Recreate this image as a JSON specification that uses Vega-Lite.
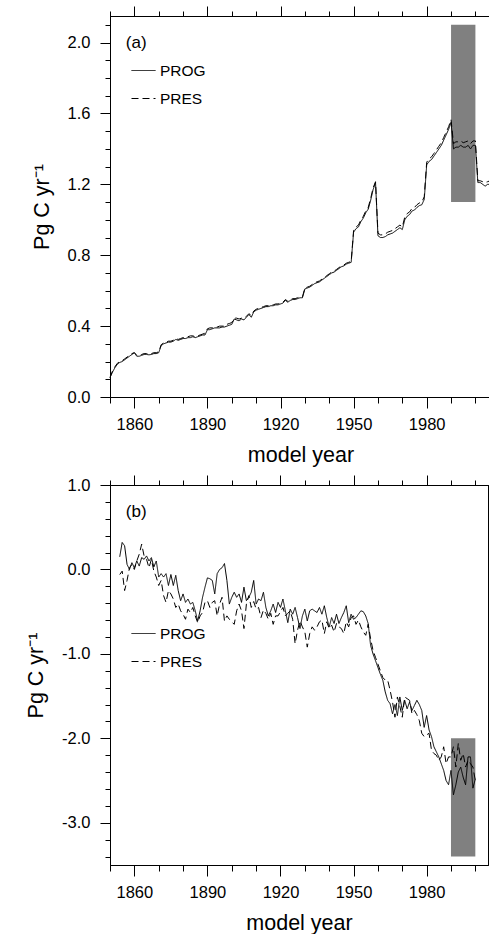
{
"$schema": "https://vega.github.io/schema/vega-lite/v6.json",
"padding": {"left": 25, "top": 5, "right": 0, "bottom": 0},
"spacing": 8,
"config": {
 "view": {"stroke": null},
 "font": "Liberation Sans",
 "axis": {"domainColor": "black", "tickColor": "black", "labelColor": "black", "titleColor": "black", "labelFont": "Liberation Sans", "titleFont": "Liberation Sans", "labelFontSize": 16.5, "titleFontSize": 21.5, "titleFontWeight": "normal", "domainWidth": 1, "tickWidth": 1, "grid": false, "labelFlush": false, "labelOverlap": false},
 "legend": {"labelFont": "Liberation Sans", "labelFontSize": 15.5, "labelColor": "black", "padding": 0}
},
"resolve": {"scale": {"strokeDash": "independent"}},
"datasets": {
 "boxA": [{"x1": 1990, "x2": 2000, "y1": 1.1, "y2": 2.1}],
 "boxB": [{"x1": 1990, "x2": 2000, "y1": -3.4, "y2": -2.0}],
 "labA": [{"label": "(a)"}],
 "labB": [{"label": "(b)"}],
 "a": [
  {"year":1850,"PROG":0.11,"PRES":0.11},{"year":1851,"PROG":0.14,"PRES":0.145},{"year":1852,"PROG":0.165,"PRES":0.17},{"year":1853,"PROG":0.185,"PRES":0.19},{"year":1854,"PROG":0.195,"PRES":0.2},{"year":1855,"PROG":0.2,"PRES":0.205},{"year":1856,"PROG":0.21,"PRES":0.215},{"year":1857,"PROG":0.22,"PRES":0.225},{"year":1858,"PROG":0.23,"PRES":0.235},{"year":1859,"PROG":0.24,"PRES":0.245},
  {"year":1860,"PROG":0.25,"PRES":0.25},{"year":1861,"PROG":0.23,"PRES":0.235},{"year":1862,"PROG":0.23,"PRES":0.235},{"year":1863,"PROG":0.235,"PRES":0.24},{"year":1864,"PROG":0.24,"PRES":0.245},{"year":1865,"PROG":0.24,"PRES":0.245},{"year":1866,"PROG":0.238,"PRES":0.24},{"year":1867,"PROG":0.24,"PRES":0.245},{"year":1868,"PROG":0.245,"PRES":0.25},{"year":1869,"PROG":0.245,"PRES":0.25},
  {"year":1870,"PROG":0.25,"PRES":0.255},{"year":1871,"PROG":0.29,"PRES":0.295},{"year":1872,"PROG":0.3,"PRES":0.305},{"year":1873,"PROG":0.305,"PRES":0.31},{"year":1874,"PROG":0.31,"PRES":0.315},{"year":1875,"PROG":0.31,"PRES":0.315},{"year":1876,"PROG":0.315,"PRES":0.32},{"year":1877,"PROG":0.325,"PRES":0.33},{"year":1878,"PROG":0.32,"PRES":0.325},{"year":1879,"PROG":0.325,"PRES":0.33},
  {"year":1880,"PROG":0.33,"PRES":0.335},{"year":1881,"PROG":0.33,"PRES":0.335},{"year":1882,"PROG":0.335,"PRES":0.34},{"year":1883,"PROG":0.335,"PRES":0.345},{"year":1884,"PROG":0.34,"PRES":0.345},{"year":1885,"PROG":0.335,"PRES":0.34},{"year":1886,"PROG":0.34,"PRES":0.345},{"year":1887,"PROG":0.345,"PRES":0.35},{"year":1888,"PROG":0.35,"PRES":0.355},{"year":1889,"PROG":0.35,"PRES":0.36},
  {"year":1890,"PROG":0.38,"PRES":0.385},{"year":1891,"PROG":0.38,"PRES":0.39},{"year":1892,"PROG":0.385,"PRES":0.39},{"year":1893,"PROG":0.39,"PRES":0.395},{"year":1894,"PROG":0.39,"PRES":0.395},{"year":1895,"PROG":0.39,"PRES":0.4},{"year":1896,"PROG":0.395,"PRES":0.4},{"year":1897,"PROG":0.395,"PRES":0.4},{"year":1898,"PROG":0.4,"PRES":0.41},{"year":1899,"PROG":0.405,"PRES":0.415},
  {"year":1900,"PROG":0.41,"PRES":0.42},{"year":1901,"PROG":0.44,"PRES":0.445},{"year":1902,"PROG":0.435,"PRES":0.445},{"year":1903,"PROG":0.43,"PRES":0.44},{"year":1904,"PROG":0.44,"PRES":0.445},{"year":1905,"PROG":0.435,"PRES":0.445},{"year":1906,"PROG":0.45,"PRES":0.455},{"year":1907,"PROG":0.465,"PRES":0.47},{"year":1908,"PROG":0.45,"PRES":0.46},{"year":1909,"PROG":0.48,"PRES":0.485},
  {"year":1910,"PROG":0.49,"PRES":0.495},{"year":1911,"PROG":0.495,"PRES":0.5},{"year":1912,"PROG":0.5,"PRES":0.505},{"year":1913,"PROG":0.505,"PRES":0.51},{"year":1914,"PROG":0.51,"PRES":0.515},{"year":1915,"PROG":0.51,"PRES":0.515},{"year":1916,"PROG":0.515,"PRES":0.52},{"year":1917,"PROG":0.515,"PRES":0.52},{"year":1918,"PROG":0.52,"PRES":0.525},{"year":1919,"PROG":0.52,"PRES":0.525},
  {"year":1920,"PROG":0.525,"PRES":0.53},{"year":1921,"PROG":0.53,"PRES":0.535},{"year":1922,"PROG":0.545,"PRES":0.55},{"year":1923,"PROG":0.535,"PRES":0.54},{"year":1924,"PROG":0.545,"PRES":0.55},{"year":1925,"PROG":0.55,"PRES":0.555},{"year":1926,"PROG":0.55,"PRES":0.555},{"year":1927,"PROG":0.555,"PRES":0.56},{"year":1928,"PROG":0.56,"PRES":0.565},{"year":1929,"PROG":0.56,"PRES":0.565},
  {"year":1930,"PROG":0.61,"PRES":0.615},{"year":1931,"PROG":0.615,"PRES":0.62},{"year":1932,"PROG":0.62,"PRES":0.625},{"year":1933,"PROG":0.63,"PRES":0.635},{"year":1934,"PROG":0.64,"PRES":0.645},{"year":1935,"PROG":0.645,"PRES":0.65},{"year":1936,"PROG":0.65,"PRES":0.655},{"year":1937,"PROG":0.66,"PRES":0.665},{"year":1938,"PROG":0.67,"PRES":0.675},{"year":1939,"PROG":0.68,"PRES":0.685},
  {"year":1940,"PROG":0.69,"PRES":0.695},{"year":1941,"PROG":0.7,"PRES":0.705},{"year":1942,"PROG":0.705,"PRES":0.71},{"year":1943,"PROG":0.715,"PRES":0.72},{"year":1944,"PROG":0.725,"PRES":0.73},{"year":1945,"PROG":0.735,"PRES":0.74},{"year":1946,"PROG":0.74,"PRES":0.745},{"year":1947,"PROG":0.75,"PRES":0.755},{"year":1948,"PROG":0.755,"PRES":0.76},{"year":1949,"PROG":0.76,"PRES":0.765},
  {"year":1950,"PROG":0.93,"PRES":0.94},{"year":1951,"PROG":0.95,"PRES":0.96},{"year":1952,"PROG":0.96,"PRES":0.97},{"year":1953,"PROG":0.99,"PRES":1.0},{"year":1954,"PROG":1.01,"PRES":1.02},{"year":1955,"PROG":1.04,"PRES":1.05},{"year":1956,"PROG":1.06,"PRES":1.07},{"year":1957,"PROG":1.11,"PRES":1.12},{"year":1958,"PROG":1.17,"PRES":1.18},{"year":1959,"PROG":1.21,"PRES":1.215},
  {"year":1960,"PROG":0.91,"PRES":0.925},{"year":1961,"PROG":0.9,"PRES":0.915},{"year":1962,"PROG":0.9,"PRES":0.915},{"year":1963,"PROG":0.905,"PRES":0.92},{"year":1964,"PROG":0.915,"PRES":0.93},{"year":1965,"PROG":0.92,"PRES":0.935},{"year":1966,"PROG":0.925,"PRES":0.94},{"year":1967,"PROG":0.935,"PRES":0.95},{"year":1968,"PROG":0.945,"PRES":0.96},{"year":1969,"PROG":0.955,"PRES":0.97},
  {"year":1970,"PROG":0.945,"PRES":0.96},{"year":1971,"PROG":1.0,"PRES":1.015},{"year":1972,"PROG":1.02,"PRES":1.035},{"year":1973,"PROG":1.03,"PRES":1.045},{"year":1974,"PROG":1.05,"PRES":1.065},{"year":1975,"PROG":1.055,"PRES":1.07},{"year":1976,"PROG":1.07,"PRES":1.085},{"year":1977,"PROG":1.08,"PRES":1.095},{"year":1978,"PROG":1.085,"PRES":1.1},{"year":1979,"PROG":1.115,"PRES":1.13},
  {"year":1980,"PROG":1.31,"PRES":1.325},{"year":1981,"PROG":1.33,"PRES":1.345},{"year":1982,"PROG":1.34,"PRES":1.355},{"year":1983,"PROG":1.36,"PRES":1.375},{"year":1984,"PROG":1.38,"PRES":1.395},{"year":1985,"PROG":1.4,"PRES":1.415},{"year":1986,"PROG":1.42,"PRES":1.435},{"year":1987,"PROG":1.45,"PRES":1.465},{"year":1988,"PROG":1.48,"PRES":1.495},{"year":1989,"PROG":1.51,"PRES":1.525},
  {"year":1990,"PROG":1.55,"PRES":1.565},{"year":1991,"PROG":1.4,"PRES":1.43},{"year":1992,"PROG":1.41,"PRES":1.44},{"year":1993,"PROG":1.41,"PRES":1.44},{"year":1994,"PROG":1.42,"PRES":1.445},{"year":1995,"PROG":1.41,"PRES":1.435},{"year":1996,"PROG":1.41,"PRES":1.44},{"year":1997,"PROG":1.42,"PRES":1.445},{"year":1998,"PROG":1.4,"PRES":1.43},{"year":1999,"PROG":1.42,"PRES":1.445},
  {"year":2000,"PROG":1.42,"PRES":1.445},{"year":2001,"PROG":1.21,"PRES":1.22},{"year":2002,"PROG":1.21,"PRES":1.22},{"year":2003,"PROG":1.2,"PRES":1.215},{"year":2004,"PROG":1.19,"PRES":1.21},{"year":2005,"PROG":1.2,"PRES":1.215},{"year":2006,"PROG":1.2,"PRES":1.22}
 ],
 "b": [
  {"year":1854,"PROG":0.15,"PRES":-0.06},{"year":1855,"PROG":0.32,"PRES":-0.02},{"year":1856,"PROG":0.28,"PRES":-0.25},{"year":1857,"PROG":0.06,"PRES":-0.13},{"year":1858,"PROG":0.0,"PRES":0.02},{"year":1859,"PROG":0.08,"PRES":0.06},
  {"year":1860,"PROG":0.02,"PRES":0.0},{"year":1861,"PROG":0.1,"PRES":0.1},{"year":1862,"PROG":0.04,"PRES":0.18},{"year":1863,"PROG":0.14,"PRES":0.3},{"year":1864,"PROG":0.12,"PRES":0.16},{"year":1865,"PROG":0.16,"PRES":0.12},{"year":1866,"PROG":0.1,"PRES":0.02},{"year":1867,"PROG":0.14,"PRES":0.12},{"year":1868,"PROG":0.03,"PRES":-0.02},{"year":1869,"PROG":0.1,"PRES":-0.09},
  {"year":1870,"PROG":-0.09,"PRES":-0.19},{"year":1871,"PROG":-0.05,"PRES":-0.13},{"year":1872,"PROG":-0.09,"PRES":-0.31},{"year":1873,"PROG":-0.05,"PRES":-0.39},{"year":1874,"PROG":-0.19,"PRES":-0.25},{"year":1875,"PROG":-0.06,"PRES":-0.29},{"year":1876,"PROG":-0.19,"PRES":-0.35},{"year":1877,"PROG":-0.07,"PRES":-0.45},{"year":1878,"PROG":-0.25,"PRES":-0.41},{"year":1879,"PROG":-0.37,"PRES":-0.49},
  {"year":1880,"PROG":-0.29,"PRES":-0.53},{"year":1881,"PROG":-0.39,"PRES":-0.59},{"year":1882,"PROG":-0.35,"PRES":-0.47},{"year":1883,"PROG":-0.41,"PRES":-0.51},{"year":1884,"PROG":-0.39,"PRES":-0.45},{"year":1885,"PROG":-0.49,"PRES":-0.55},{"year":1886,"PROG":-0.61,"PRES":-0.63},{"year":1887,"PROG":-0.49,"PRES":-0.55},{"year":1888,"PROG":-0.33,"PRES":-0.51},{"year":1889,"PROG":-0.21,"PRES":-0.39},
  {"year":1890,"PROG":-0.1,"PRES":-0.37},{"year":1891,"PROG":-0.11,"PRES":-0.45},{"year":1892,"PROG":-0.13,"PRES":-0.39},{"year":1893,"PROG":-0.29,"PRES":-0.37},{"year":1894,"PROG":-0.05,"PRES":-0.55},{"year":1895,"PROG":0.0,"PRES":-0.41},{"year":1896,"PROG":0.02,"PRES":-0.33},{"year":1897,"PROG":0.07,"PRES":-0.61},{"year":1898,"PROG":-0.13,"PRES":-0.55},{"year":1899,"PROG":-0.41,"PRES":-0.59},
  {"year":1900,"PROG":-0.33,"PRES":-0.62},{"year":1901,"PROG":-0.27,"PRES":-0.65},{"year":1902,"PROG":-0.33,"PRES":-0.49},{"year":1903,"PROG":-0.29,"PRES":-0.41},{"year":1904,"PROG":-0.39,"PRES":-0.49},{"year":1905,"PROG":-0.21,"PRES":-0.7},{"year":1906,"PROG":-0.37,"PRES":-0.41},{"year":1907,"PROG":-0.33,"PRES":-0.31},{"year":1908,"PROG":-0.27,"PRES":-0.45},{"year":1909,"PROG":-0.13,"PRES":-0.38},
  {"year":1910,"PROG":-0.41,"PRES":-0.47},{"year":1911,"PROG":-0.35,"PRES":-0.45},{"year":1912,"PROG":-0.37,"PRES":-0.57},{"year":1913,"PROG":-0.27,"PRES":-0.48},{"year":1914,"PROG":-0.45,"PRES":-0.52},{"year":1915,"PROG":-0.55,"PRES":-0.59},{"year":1916,"PROG":-0.49,"PRES":-0.52},{"year":1917,"PROG":-0.41,"PRES":-0.65},{"year":1918,"PROG":-0.51,"PRES":-0.55},{"year":1919,"PROG":-0.39,"PRES":-0.55},
  {"year":1920,"PROG":-0.45,"PRES":-0.5},{"year":1921,"PROG":-0.35,"PRES":-0.45},{"year":1922,"PROG":-0.49,"PRES":-0.55},{"year":1923,"PROG":-0.63,"PRES":-0.52},{"year":1924,"PROG":-0.47,"PRES":-0.49},{"year":1925,"PROG":-0.53,"PRES":-0.59},{"year":1926,"PROG":-0.45,"PRES":-0.88},{"year":1927,"PROG":-0.57,"PRES":-0.72},{"year":1928,"PROG":-0.7,"PRES":-0.61},{"year":1929,"PROG":-0.55,"PRES":-0.68},
  {"year":1930,"PROG":-0.47,"PRES":-0.74},{"year":1931,"PROG":-0.61,"PRES":-0.92},{"year":1932,"PROG":-0.49,"PRES":-0.76},{"year":1933,"PROG":-0.47,"PRES":-0.68},{"year":1934,"PROG":-0.49,"PRES":-0.72},{"year":1935,"PROG":-0.51,"PRES":-0.68},{"year":1936,"PROG":-0.45,"PRES":-0.62},{"year":1937,"PROG":-0.53,"PRES":-0.6},{"year":1938,"PROG":-0.43,"PRES":-0.76},{"year":1939,"PROG":-0.57,"PRES":-0.62},
  {"year":1940,"PROG":-0.68,"PRES":-0.7},{"year":1941,"PROG":-0.57,"PRES":-0.66},{"year":1942,"PROG":-0.64,"PRES":-0.74},{"year":1943,"PROG":-0.53,"PRES":-0.64},{"year":1944,"PROG":-0.64,"PRES":-0.68},{"year":1945,"PROG":-0.57,"PRES":-0.7},{"year":1946,"PROG":-0.51,"PRES":-0.76},{"year":1947,"PROG":-0.43,"PRES":-0.62},{"year":1948,"PROG":-0.63,"PRES":-0.68},{"year":1949,"PROG":-0.53,"PRES":-0.57},
  {"year":1950,"PROG":-0.59,"PRES":-0.55},{"year":1951,"PROG":-0.57,"PRES":-0.65},{"year":1952,"PROG":-0.53,"PRES":-0.6},{"year":1953,"PROG":-0.49,"PRES":-0.68},{"year":1954,"PROG":-0.5,"PRES":-0.74},{"year":1955,"PROG":-0.55,"PRES":-0.78},{"year":1956,"PROG":-0.64,"PRES":-0.65},{"year":1957,"PROG":-0.9,"PRES":-0.82},{"year":1958,"PROG":-1.0,"PRES":-0.96},{"year":1959,"PROG":-1.08,"PRES":-1.04},
  {"year":1960,"PROG":-1.16,"PRES":-1.12},{"year":1961,"PROG":-1.24,"PRES":-1.2},{"year":1962,"PROG":-1.31,"PRES":-1.28},{"year":1963,"PROG":-1.45,"PRES":-1.31},{"year":1964,"PROG":-1.55,"PRES":-1.31},{"year":1965,"PROG":-1.59,"PRES":-1.43},{"year":1966,"PROG":-1.71,"PRES":-1.57},{"year":1967,"PROG":-1.6,"PRES":-1.75},{"year":1968,"PROG":-1.73,"PRES":-1.51},{"year":1969,"PROG":-1.51,"PRES":-1.62},
  {"year":1970,"PROG":-1.67,"PRES":-1.75},{"year":1971,"PROG":-1.55,"PRES":-1.51},{"year":1972,"PROG":-1.65,"PRES":-1.53},{"year":1973,"PROG":-1.57,"PRES":-1.55},{"year":1974,"PROG":-1.67,"PRES":-1.71},{"year":1975,"PROG":-1.61,"PRES":-1.67},{"year":1976,"PROG":-1.55,"PRES":-1.72},{"year":1977,"PROG":-1.6,"PRES":-1.79},{"year":1978,"PROG":-1.67,"PRES":-1.94},{"year":1979,"PROG":-1.87,"PRES":-1.98},
  {"year":1980,"PROG":-1.73,"PRES":-1.96},{"year":1981,"PROG":-1.9,"PRES":-1.94},{"year":1982,"PROG":-1.98,"PRES":-2.14},{"year":1983,"PROG":-2.1,"PRES":-2.18},{"year":1984,"PROG":-2.16,"PRES":-2.2},{"year":1985,"PROG":-2.22,"PRES":-2.26},{"year":1986,"PROG":-2.3,"PRES":-2.22},{"year":1987,"PROG":-2.38,"PRES":-2.1},{"year":1988,"PROG":-2.5,"PRES":-2.3},{"year":1989,"PROG":-2.55,"PRES":-2.22},
  {"year":1990,"PROG":-2.38,"PRES":-2.22},{"year":1991,"PROG":-2.67,"PRES":-2.1},{"year":1992,"PROG":-2.55,"PRES":-2.34},{"year":1993,"PROG":-2.4,"PRES":-2.06},{"year":1994,"PROG":-2.34,"PRES":-2.26},{"year":1995,"PROG":-2.46,"PRES":-2.18},{"year":1996,"PROG":-2.55,"PRES":-2.34},{"year":1997,"PROG":-2.22,"PRES":-2.26},{"year":1998,"PROG":-2.22,"PRES":-2.3},{"year":1999,"PROG":-2.59,"PRES":-2.34},
  {"year":2000,"PROG":-2.48,"PRES":-2.5}
 ]
},
"vconcat": [
 {
  "width": 381, "height": 381,
  "data": {"name": "a"},
  "resolve": {"axis": {"x": "independent", "y": "independent"}},
  "layer": [
   {
    "data": {"name": "boxA"},
    "mark": {"type": "rect", "fill": "#808080"},
    "encoding": {
     "x": {"field": "x1", "type": "quantitative", "scale": {"domain": [1850, 2006.4], "nice": false, "zero": false},
           "axis": {"orient": "bottom", "values": [1860, 1890, 1920, 1950, 1980], "format": "d", "tickSize": 11, "labelPadding": 8, "title": "model year", "titlePadding": 12}},
     "x2": {"field": "x2"},
     "y": {"field": "y1", "type": "quantitative", "scale": {"domain": [0, 2.15], "nice": false, "zero": false},
           "axis": {"orient": "left", "values": [0, 0.4, 0.8, 1.2, 1.6, 2.0], "format": ".1f", "tickSize": 10, "labelPadding": 10, "title": "Pg C yr⁻¹", "titlePadding": 14}},
     "y2": {"field": "y2"}
    }
   },
   {
    "mark": {"type": "line", "color": "black", "strokeWidth": 1},
    "encoding": {
     "x": {"field": "year", "type": "quantitative", "scale": {"domain": [1850, 2006.4], "nice": false, "zero": false},
           "axis": {"orient": "bottom", "values": [1850, 1870, 1880, 1900, 1910, 1930, 1940, 1960, 1970, 1990, 2000], "labels": false, "tickSize": 6, "title": null}},
     "y": {"field": "PROG", "type": "quantitative", "scale": {"domain": [0, 2.15], "nice": false, "zero": false},
           "axis": {"orient": "left", "values": [0.1, 0.2, 0.3, 0.5, 0.6, 0.7, 0.9, 1.0, 1.1, 1.3, 1.4, 1.5, 1.7, 1.8, 1.9, 2.1], "labels": false, "tickSize": 5, "title": null}},
     "strokeDash": {"datum": "PROG", "type": "nominal", "scale": {"domain": ["PROG", "PRES"], "range": [[1, 0], [7, 4]]},
           "legend": {"orient": "none", "legendX": 21, "legendY": 42, "title": null, "symbolType": "stroke", "symbolSize": 576, "symbolStrokeColor": "black", "symbolStrokeWidth": 1, "labelOffset": 4, "rowPadding": 7}}
    }
   },
   {
    "mark": {"type": "line", "color": "black", "strokeWidth": 1},
    "encoding": {
     "x": {"field": "year", "type": "quantitative", "scale": {"domain": [1850, 2006.4], "nice": false, "zero": false},
           "axis": {"orient": "top", "values": [1860, 1890, 1920, 1950, 1980], "labels": false, "tickSize": 10, "title": null}},
     "y": {"field": "PRES", "type": "quantitative", "scale": {"domain": [0, 2.15], "nice": false, "zero": false},
           "axis": {"orient": "right", "values": [0, 0.4, 0.8, 1.2, 1.6, 2.0], "labels": false, "tickSize": 1, "title": null}},
     "strokeDash": {"datum": "PRES", "type": "nominal", "scale": {"domain": ["PROG", "PRES"], "range": [[1, 0], [7, 4]]},
           "legend": {"orient": "none", "legendX": 21, "legendY": 42, "title": null, "symbolType": "stroke", "symbolSize": 576, "symbolStrokeColor": "black", "symbolStrokeWidth": 1, "labelOffset": 4, "rowPadding": 7}}
    }
   },
   {
    "data": {"name": "labA"},
    "mark": {"type": "text", "align": "left", "baseline": "middle", "fontSize": 17, "font": "Liberation Sans", "fill": "black"},
    "encoding": {
     "text": {"field": "label"},
     "x": {"datum": 1856.5, "type": "quantitative", "scale": {"domain": [1850, 2006.4], "nice": false, "zero": false},
           "axis": {"orient": "top", "values": [1850, 1870, 1880, 1900, 1910, 1930, 1940, 1960, 1970, 1990, 2000], "labels": false, "tickSize": 5, "title": null}},
     "y": {"datum": 2.0, "type": "quantitative", "scale": {"domain": [0, 2.15], "nice": false, "zero": false},
           "axis": {"orient": "right", "values": [0.1, 0.2, 0.3, 0.5, 0.6, 0.7, 0.9, 1.0, 1.1, 1.3, 1.4, 1.5, 1.7, 1.8, 1.9, 2.1], "labels": false, "tickSize": 1, "title": null}}
    }
   }
  ]
 },
 {
  "width": 378, "height": 380,
  "data": {"name": "b"},
  "resolve": {"axis": {"x": "independent", "y": "independent"}},
  "layer": [
   {
    "data": {"name": "boxB"},
    "mark": {"type": "rect", "fill": "#808080"},
    "encoding": {
     "x": {"field": "x1", "type": "quantitative", "scale": {"domain": [1850, 2005.2], "nice": false, "zero": false},
           "axis": {"orient": "bottom", "values": [1860, 1890, 1920, 1950, 1980], "format": "d", "tickSize": 11, "labelPadding": 8, "title": "model year", "titlePadding": 12}},
     "x2": {"field": "x2"},
     "y": {"field": "y1", "type": "quantitative", "scale": {"domain": [-3.5, 1.0], "nice": false, "zero": false},
           "axis": {"orient": "left", "values": [-3, -2, -1, 0, 1], "labelExpr": "(datum.value < 0 ? '-' : '') + format(abs(datum.value), '.1f')", "tickSize": 10, "labelPadding": 10, "title": "Pg C yr⁻¹", "titlePadding": 14}},
     "y2": {"field": "y2"}
    }
   },
   {
    "mark": {"type": "line", "color": "black", "strokeWidth": 1},
    "encoding": {
     "x": {"field": "year", "type": "quantitative", "scale": {"domain": [1850, 2005.2], "nice": false, "zero": false},
           "axis": {"orient": "bottom", "values": [1850, 1870, 1880, 1900, 1910, 1930, 1940, 1960, 1970, 1990, 2000], "labels": false, "tickSize": 6, "title": null}},
     "y": {"field": "PROG", "type": "quantitative", "scale": {"domain": [-3.5, 1.0], "nice": false, "zero": false},
           "axis": {"orient": "left", "values": [-3.4, -3.2, -2.8, -2.6, -2.4, -2.2, -1.8, -1.6, -1.4, -1.2, -0.8, -0.6, -0.4, -0.2, 0.2, 0.4, 0.6, 0.8], "labels": false, "tickSize": 5, "title": null}},
     "strokeDash": {"datum": "PROG", "type": "nominal", "scale": {"domain": ["PROG", "PRES"], "range": [[1, 0], [7, 4]]},
           "legend": {"orient": "none", "legendX": 21, "legendY": 136, "title": null, "symbolType": "stroke", "symbolSize": 576, "symbolStrokeColor": "black", "symbolStrokeWidth": 1, "labelOffset": 4, "rowPadding": 7}}
    }
   },
   {
    "mark": {"type": "line", "color": "black", "strokeWidth": 1},
    "encoding": {
     "x": {"field": "year", "type": "quantitative", "scale": {"domain": [1850, 2005.2], "nice": false, "zero": false},
           "axis": {"orient": "top", "values": [1860, 1890, 1920, 1950, 1980], "labels": false, "tickSize": 10, "title": null}},
     "y": {"field": "PRES", "type": "quantitative", "scale": {"domain": [-3.5, 1.0], "nice": false, "zero": false},
           "axis": {"orient": "right", "values": [-3, -2, -1, 0, 1], "labels": false, "tickSize": 1, "title": null}},
     "strokeDash": {"datum": "PRES", "type": "nominal", "scale": {"domain": ["PROG", "PRES"], "range": [[1, 0], [7, 4]]},
           "legend": {"orient": "none", "legendX": 21, "legendY": 136, "title": null, "symbolType": "stroke", "symbolSize": 576, "symbolStrokeColor": "black", "symbolStrokeWidth": 1, "labelOffset": 4, "rowPadding": 7}}
    }
   },
   {
    "data": {"name": "labB"},
    "mark": {"type": "text", "align": "left", "baseline": "middle", "fontSize": 17, "font": "Liberation Sans", "fill": "black"},
    "encoding": {
     "text": {"field": "label"},
     "x": {"datum": 1856.5, "type": "quantitative", "scale": {"domain": [1850, 2005.2], "nice": false, "zero": false},
           "axis": {"orient": "top", "values": [1850, 1870, 1880, 1900, 1910, 1930, 1940, 1960, 1970, 1990, 2000], "labels": false, "tickSize": 5, "title": null}},
     "y": {"datum": 0.68, "type": "quantitative", "scale": {"domain": [-3.5, 1.0], "nice": false, "zero": false},
           "axis": {"orient": "right", "values": [-3.4, -3.2, -2.8, -2.6, -2.4, -2.2, -1.8, -1.6, -1.4, -1.2, -0.8, -0.6, -0.4, -0.2, 0.2, 0.4, 0.6, 0.8], "labels": false, "tickSize": 1, "title": null}}
    }
   }
  ]
 }
]
}
